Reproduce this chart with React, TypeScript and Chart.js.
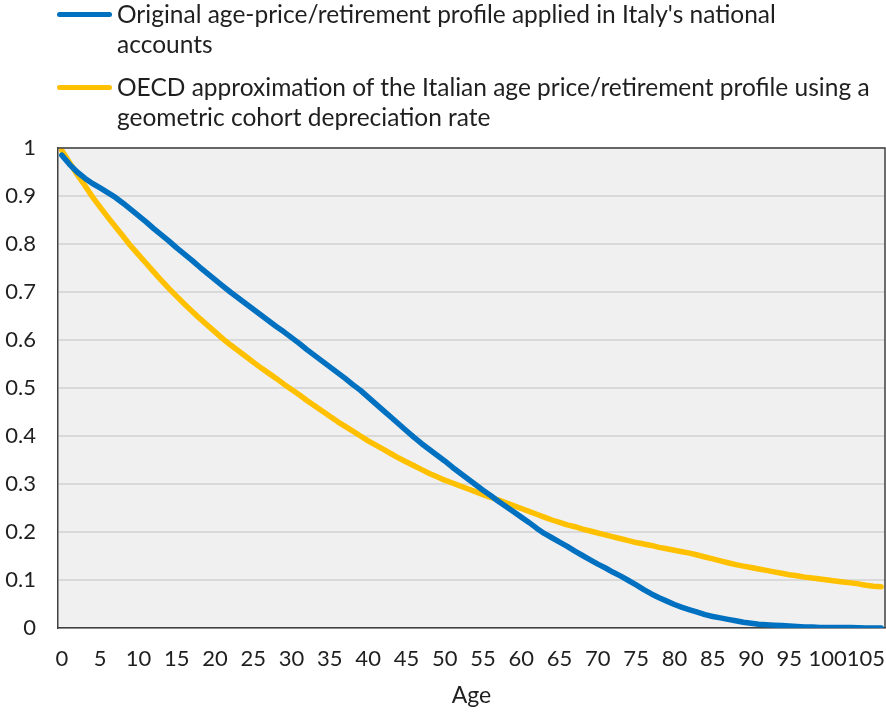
import React, { useEffect, useRef } from "react";
import { Chart, registerables } from "chart.js";

Chart.register(...registerables);

const ages: string[] = [
  "0","1","2","3","4","5","6","7","8","9","10","11","12","13","14","15","16","17","18","19",
  "20","21","22","23","24","25","26","27","28","29","30","31","32","33","34","35","36","37","38","39",
  "40","41","42","43","44","45","46","47","48","49","50","51","52","53","54","55","56","57","58","59",
  "60","61","62","63","64","65","66","67","68","69","70","71","72","73","74","75","76","77","78","79",
  "80","81","82","83","84","85","86","87","88","89","90","91","92","93","94","95","96","97","98","99",
  "100","101","102","103","104","105","106","107",
];

const originalProfile: number[] = [
  0.985, 0.966, 0.95, 0.937, 0.926, 0.917, 0.907, 0.897, 0.885, 0.872,
  0.859, 0.846, 0.832, 0.819, 0.806, 0.792, 0.779, 0.766, 0.752, 0.739,
  0.726, 0.713, 0.7, 0.688, 0.676, 0.664, 0.652, 0.64, 0.628, 0.617,
  0.605, 0.593, 0.58, 0.568, 0.556, 0.544, 0.532, 0.52, 0.507, 0.495,
  0.481, 0.467, 0.453, 0.439, 0.425, 0.411, 0.397, 0.384, 0.372, 0.36,
  0.348, 0.335, 0.323, 0.311, 0.299, 0.287, 0.276, 0.264, 0.253, 0.242,
  0.231, 0.22, 0.208, 0.197, 0.188, 0.179, 0.17, 0.16, 0.151, 0.142,
  0.133, 0.125, 0.116, 0.108, 0.099, 0.09, 0.08, 0.071, 0.063, 0.056,
  0.049, 0.043, 0.038, 0.033, 0.028, 0.024, 0.021, 0.018, 0.015, 0.012,
  0.01, 0.008, 0.007, 0.006, 0.005, 0.004, 0.003, 0.002, 0.002, 0.001,
  0.001, 0.001, 0.001, 0.001, 0.0005, 0, 0, 0,
];

const oecdProfile: number[] = [
  0.995, 0.97, 0.945, 0.922, 0.898, 0.877, 0.856, 0.836, 0.816, 0.796,
  0.778, 0.76, 0.742, 0.724, 0.707, 0.691, 0.675, 0.66, 0.645, 0.631,
  0.617, 0.603, 0.59, 0.578, 0.566, 0.554, 0.542, 0.531, 0.52, 0.508,
  0.497, 0.486, 0.474, 0.463, 0.452, 0.441, 0.43, 0.42, 0.41, 0.4,
  0.39, 0.381, 0.372, 0.363, 0.354, 0.346, 0.338, 0.33, 0.322, 0.315,
  0.308, 0.302, 0.296, 0.29, 0.284, 0.278, 0.272, 0.267, 0.261, 0.255,
  0.249, 0.243, 0.237, 0.231, 0.225, 0.22, 0.215, 0.211, 0.206, 0.202,
  0.198, 0.194, 0.19, 0.186, 0.182, 0.178, 0.175, 0.172, 0.168, 0.165,
  0.162, 0.159, 0.156, 0.152, 0.148, 0.144, 0.14, 0.136, 0.132, 0.129,
  0.126, 0.123, 0.12, 0.117, 0.114, 0.111, 0.109, 0.106, 0.104, 0.102,
  0.1, 0.098, 0.096, 0.094, 0.092, 0.089, 0.087, 0.086,
];

const seriesLabels: string[][] = [
  ["Original age-price/retirement profile applied in Italy's national", "accounts"],
  ["OECD approximation of the Italian age price/retirement profile using a", "geometric cohort depreciation rate"],
];
const seriesColors: string[] = ["#0070C0", "#FFC000"];
const xTitle = "Age";
const xLabelStep = 5;

const FONT = "Lato, 'Liberation Sans', sans-serif";
const TEXT = "#1f1f1f";

const plotBackground = {
  id: "plotBackground",
  beforeDraw(chart: any) {
    const { ctx, chartArea } = chart;
    if (!chartArea) return;
    ctx.save();
    ctx.fillStyle = "#f0f0f0";
    ctx.fillRect(chartArea.left, chartArea.top, chartArea.right - chartArea.left, chartArea.bottom - chartArea.top);
    ctx.restore();
  },
  afterDraw(chart: any) {
    const { ctx, chartArea } = chart;
    ctx.save();
    ctx.strokeStyle = "#404040";
    ctx.lineWidth = 1.5;
    ctx.beginPath();
    ctx.moveTo(chartArea.left, chartArea.top);
    ctx.lineTo(chartArea.right, chartArea.top);
    ctx.lineTo(chartArea.right, chartArea.bottom);
    ctx.stroke();
    ctx.restore();
  },
};

export default function App() {
  const canvasRef = useRef<HTMLCanvasElement | null>(null);

  useEffect(() => {
    document.body.style.margin = "0";
    const canvas = canvasRef.current;
    if (!canvas) return;
    const chart = new Chart(canvas, {
      type: "line",
      data: {
        labels: ages,
        datasets: [
          {
            label: seriesLabels[0].join(" "),
            data: originalProfile,
            borderColor: seriesColors[0],
            backgroundColor: seriesColors[0],
            borderWidth: 5.5,
            pointRadius: 0,
            tension: 0,
            borderJoinStyle: "round",
            borderCapStyle: "round",
          },
          {
            label: seriesLabels[1].join(" "),
            data: oecdProfile,
            borderColor: seriesColors[1],
            backgroundColor: seriesColors[1],
            borderWidth: 5.5,
            pointRadius: 0,
            tension: 0,
            borderJoinStyle: "round",
            borderCapStyle: "round",
          },
        ],
      },
      options: {
        animation: false,
        responsive: false,
        devicePixelRatio: 1,
        layout: { padding: { top: 148, right: 1, left: 0, bottom: 0 } },
        plugins: {
          legend: { display: false },
          tooltip: { enabled: false },
        },
        scales: {
          x: {
            type: "category",
            offset: true,
            grid: { display: false, drawTicks: false },
            border: { display: true, color: "#404040", width: 1.5 },
            ticks: {
              autoSkip: false,
              maxRotation: 0,
              minRotation: 0,
              padding: 18,
              color: TEXT,
              font: { family: FONT, size: 22 },
              callback: (_v: any, i: number) => (i % xLabelStep === 0 ? ages[i] : ""),
            },
            title: {
              display: true,
              text: xTitle,
              color: TEXT,
              font: { family: FONT, size: 23 },
              padding: { top: 0, bottom: 4 },
            },
            afterFit: (scale: any) => {
              scale.height = 85;
              scale.paddingRight = 0;
              scale.paddingLeft = 0;
            },
          },
          y: {
            min: 0,
            max: 1,
            grid: { color: "#d9d9d9", lineWidth: 2, drawTicks: false },
            border: { display: true, color: "#404040", width: 1.5 },
            ticks: {
              stepSize: 0.1,
              padding: 22,
              color: TEXT,
              font: { family: FONT, size: 22 },
              callback: (v: any) => String(Number(Number(v).toFixed(1))),
            },
            afterFit: (scale: any) => {
              scale.width = 58;
            },
          },
        },
      },
      plugins: [plotBackground],
    });
    return () => chart.destroy();
  }, []);

  const legendItem = (i: number, top: number) => (
    <div key={i} style={{ position: "absolute", left: 0, top, width: 886 }}>
      <div
        style={{
          position: "absolute",
          left: 57,
          top: 12,
          width: 55,
          height: 5,
          borderRadius: 2.5,
          background: seriesColors[i],
        }}
      />
      <div
        style={{
          position: "absolute",
          left: 117,
          top: -1,
          fontFamily: FONT,
          fontSize: 24.5,
          lineHeight: "30px",
          color: TEXT,
          whiteSpace: "nowrap",
        }}
      >
        {seriesLabels[i][0]}
        <br />
        {seriesLabels[i][1]}
      </div>
    </div>
  );

  return (
    <div style={{ position: "relative", width: 886, height: 713, background: "#fff" }}>
      <canvas ref={canvasRef} width={886} height={713} style={{ position: "absolute", left: 0, top: 0, width: 886, height: 713 }} />
      {legendItem(0, 0)}
      {legendItem(1, 73)}
    </div>
  );
}
